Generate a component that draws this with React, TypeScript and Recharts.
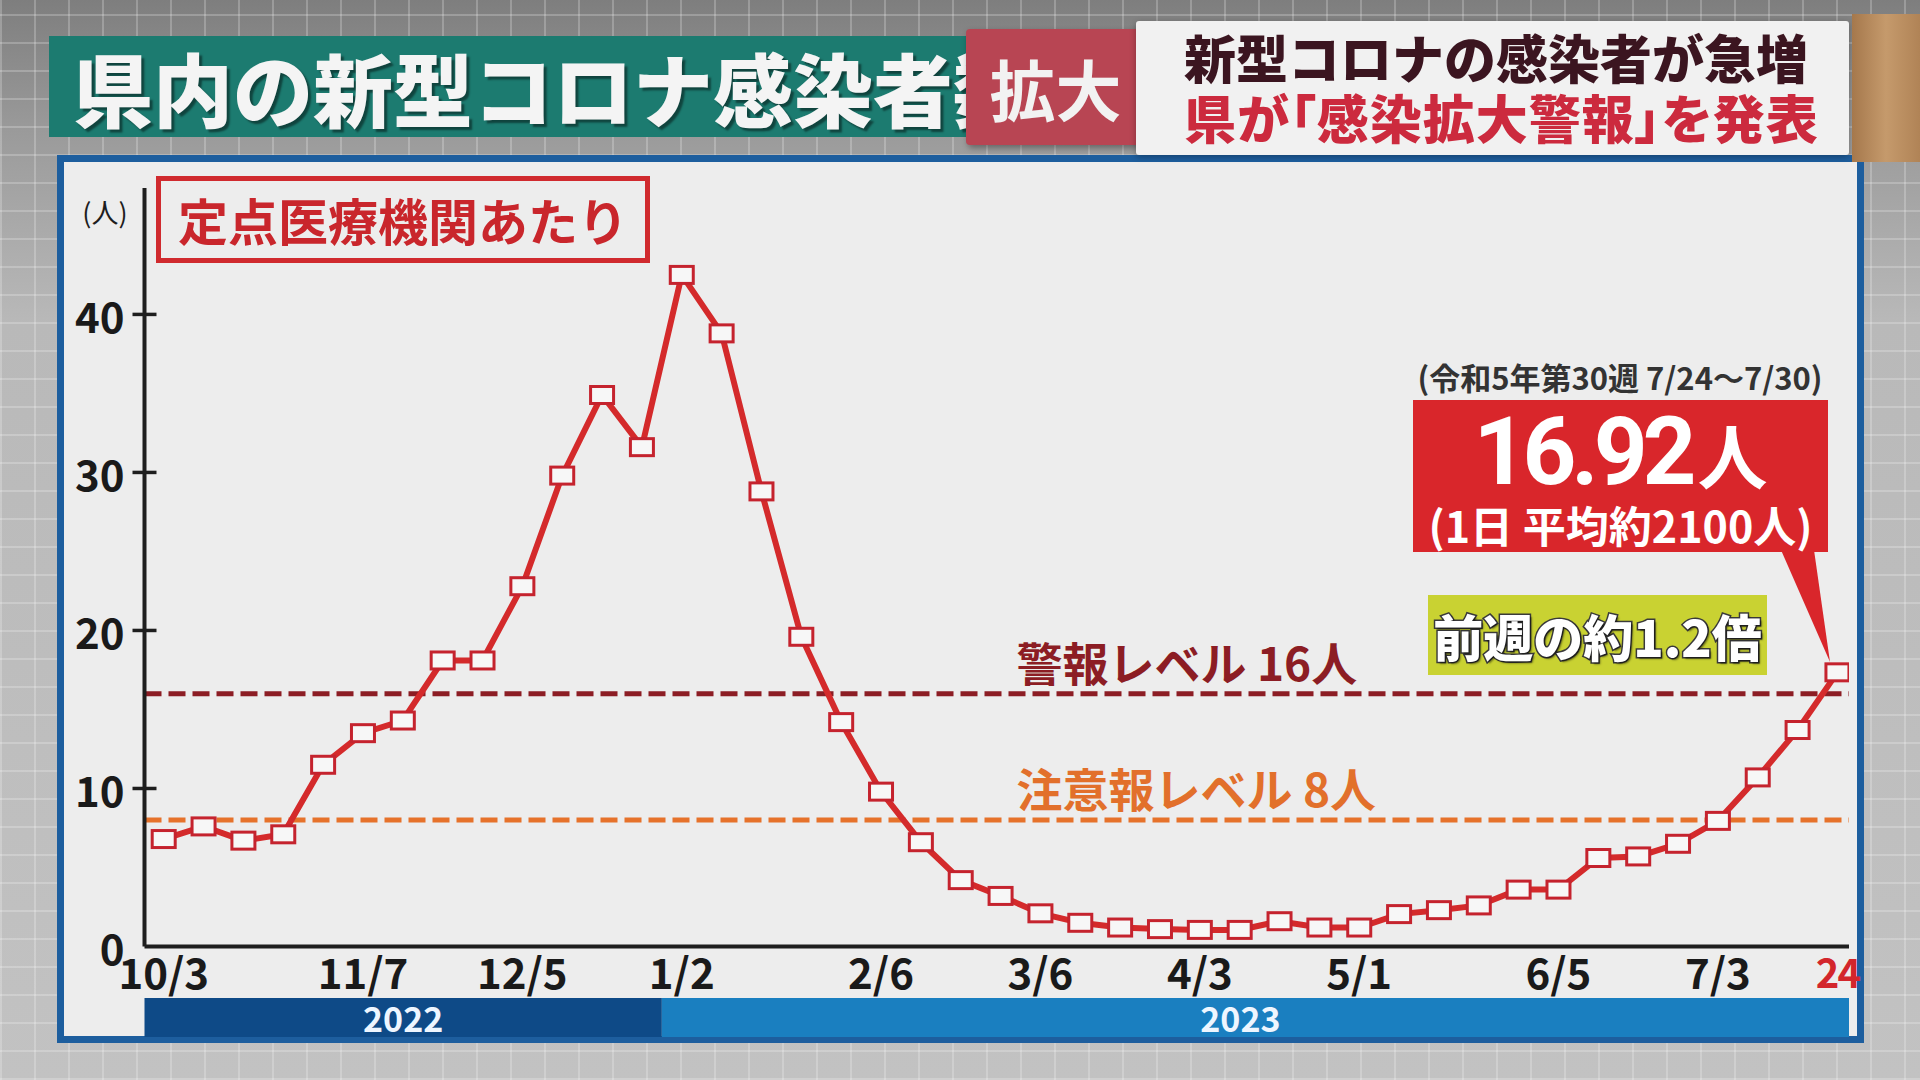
import React from 'react';
import { LineChart, Line, XAxis, YAxis, ReferenceLine, ReferenceArea } from 'recharts';

// ---- data ----
const weekLabels = [
  '10/3', '10/10', '10/17', '10/24', '10/31', '11/7', '11/14', '11/21', '11/28',
  '12/5', '12/12', '12/19', '12/26', '1/2', '1/9', '1/16', '1/23', '1/30',
  '2/6', '2/13', '2/20', '2/27', '3/6', '3/13', '3/20', '3/27', '4/3', '4/10',
  '4/17', '4/24', '5/1', '5/8', '5/15', '5/22', '5/29', '6/5', '6/12', '6/19',
  '6/26', '7/3', '7/10', '7/17', '7/24',
];
const perClinic = [
  6.8, 7.6, 6.7, 7.1, 11.5, 13.5, 14.3, 18.1, 18.1,
  22.8, 29.8, 34.9, 31.6, 42.5, 38.8, 28.8, 19.6, 14.2,
  9.8, 6.6, 4.2, 3.2, 2.1, 1.5, 1.2, 1.1, 1.05, 1.05,
  1.6, 1.2, 1.2, 2.05, 2.3, 2.6, 3.6, 3.6, 5.6, 5.7,
  6.5, 7.95, 10.7, 13.7, 17.35,
];
const xTickWeeks = ['10/3', '11/7', '12/5', '1/2', '2/6', '3/6', '4/3', '5/1', '6/5', '7/3', '7/24'];
const xTickLabels = ['10/3', '11/7', '12/5', '1/2', '2/6', '3/6', '4/3', '5/1', '6/5', '7/3', '24'];
const yTicks = [0, 10, 20, 30, 40];
const years = ['2022', '2023'];
const yearStartWeeks = ['10/3', '1/2'];
const alertLevel = 16;
const cautionLevel = 8;
const alertText = '警報レベル 16人';
const cautionText = '注意報レベル 8人';

const FONT = '"Noto Sans CJK JP", "Noto Sans", sans-serif';
const X_DOMAIN: [number, number] = [-0.482, 42.29];
const Y_DOMAIN: [number, number] = [0, 48];

const YTick = (props: any) => {
  const { x, y, payload } = props;
  return (
    <g>
      {payload.value !== 0 && (
        <line x1={x - 12} x2={x + 12} y1={y} y2={y} stroke="#1e1e1e" strokeWidth={3.5} />
      )}
      <text x={x - 20} y={y} textAnchor="end" dominantBaseline="central"
        fontFamily={FONT} fontSize={42} fontWeight={700} fill="#1a1a1a">
        {payload.value}
      </text>
    </g>
  );
};

const XTick = (props: any) => {
  const { x, y, payload, ticksIdx } = props;
  const k = ticksIdx.indexOf(payload.value);
  const label = xTickLabels[k];
  const last = k === xTickLabels.length - 1;
  return (
    <text x={x} y={y + 24} textAnchor="middle" dominantBaseline="central"
      fontFamily={FONT} fontSize={last ? 40 : 42} fontWeight={700}
      letterSpacing={last ? -2 : 0}
      fill={last ? '#d3262c' : '#1a1a1a'}>
      {label}
    </text>
  );
};

const Marker = (props: any) => {
  const { cx, cy, index } = props;
  if (cx == null || cy == null) return null;
  return (
    <rect key={`m${index}`} x={cx - 11.5} y={cy - 8.5} width={23} height={17}
      fill="#f7f7f7" stroke="#c5232e" strokeWidth={3} />
  );
};

const LevelLabel = (props: any) => {
  const { viewBox, text, color } = props;
  if (!viewBox) return null;
  return (
    <text x={viewBox.x + 872} y={viewBox.y - 13} fontFamily={FONT} fontSize={46}
      fontWeight={700} fill={color}>
      {text}
    </text>
  );
};

const YearLabel = (props: any) => {
  const { viewBox, text, dx } = props;
  if (!viewBox) return null;
  return (
    <text x={viewBox.x + viewBox.width / 2 + (dx || 0)} y={viewBox.y + viewBox.height / 2}
      textAnchor="middle" dominantBaseline="central" fontFamily={FONT}
      fontSize={34} fontWeight={700} fill="#eef6ff">
      {text}
    </text>
  );
};

export default function App() {
  const data = weekLabels.map((w, i) => ({ i, week: w, value: perClinic[i] }));
  const ticksIdx = xTickWeeks.map((w) => weekLabels.indexOf(w));
  const bounds = yearStartWeeks.map((w, k) => (k === 0 ? X_DOMAIN[0] : weekLabels.indexOf(w) - 0.5));
  const yearColors = ['#0e4a87', '#1a7fc0'];
  const yearDx = [0, -15];

  return (
    <div style={{
      position: 'absolute', left: 0, top: 0, width: 1920, height: 1080, overflow: 'hidden',
      fontFamily: FONT,
      background:
        'repeating-linear-gradient(90deg, rgba(255,255,255,0.22) 0 2px, transparent 2px 34px),' +
        'repeating-linear-gradient(0deg, rgba(255,255,255,0.22) 0 2px, transparent 2px 28px),' +
        'linear-gradient(180deg, #7e7e7e 0%, #9a9a9a 12%, #b9b9b9 30%, #c2c2c2 100%)',
    }}>
      {/* chart panel */}
      <div style={{
        position: 'absolute', left: 57, top: 155, width: 1807, height: 888,
        boxSizing: 'border-box', border: '7px solid #1d5e9e', background: '#ededed',
      }} />

      <LineChart width={1920} height={1080} data={data}
        style={{ position: 'absolute', left: 0, top: 0 }}
        margin={{ top: 188, right: 71, bottom: 83.5, left: 54.5 }}>
        <XAxis dataKey="i" type="number" domain={X_DOMAIN} ticks={ticksIdx} interval={0}
          height={50} tickSize={0} tickMargin={0} tickLine={false}
          axisLine={{ stroke: '#1e1e1e', strokeWidth: 4 }}
          tick={<XTick ticksIdx={ticksIdx} />} allowDataOverflow />
        <YAxis type="number" domain={Y_DOMAIN} ticks={yTicks} interval={0} width={90}
          tickSize={0} tickMargin={0} tickLine={false}
          axisLine={{ stroke: '#1e1e1e', strokeWidth: 4 }} tick={<YTick />} allowDataOverflow />
        {years.map((yr, k) => (
          <ReferenceArea key={yr} x1={bounds[k]} x2={k + 1 < bounds.length ? bounds[k + 1] : X_DOMAIN[1]}
            y1={-3.26} y2={-5.73} ifOverflow="visible" fill={yearColors[k]} fillOpacity={1}
            stroke="none" label={<YearLabel text={yr} dx={yearDx[k]} />} />
        ))}
        <ReferenceLine y={alertLevel} stroke="#8c1d24" strokeWidth={5} strokeDasharray="17 7"
          label={<LevelLabel text={alertText} color="#8c1d24" />} />
        <ReferenceLine y={cautionLevel} stroke="#e6722b" strokeWidth={5} strokeDasharray="17 7"
          label={<LevelLabel text={cautionText} color="#e2702b" />} />
        <Line type="linear" dataKey="value" stroke="#d42a2b" strokeWidth={6}
          dot={<Marker />} activeDot={false} isAnimationActive={false} />
      </LineChart>

      {/* header: title */}
      <div style={{
        position: 'absolute', left: 49, top: 36, width: 940, height: 101, background: '#1c7b70',
        overflow: 'hidden',
      }}>
        <div style={{
          position: 'absolute', left: 24, top: 0, height: 101, lineHeight: '101px',
          fontSize: 80, fontWeight: 900, color: '#f4f4f4', whiteSpace: 'nowrap',
          textShadow: '3px 3px 2px rgba(0,0,0,0.45)',
        }}>県内の新型コロナ感染者数</div>
      </div>
      <div style={{
        position: 'absolute', left: 966, top: 29, width: 179, height: 116, background: '#b84553',
        borderRadius: 4, boxShadow: '2px 3px 6px rgba(0,0,0,0.35)',
        color: '#f2f2f2', fontSize: 66, fontWeight: 700, lineHeight: '116px', textAlign: 'center',
      }}>拡大</div>
      <div style={{
        position: 'absolute', left: 1136, top: 21, width: 713, height: 134, background: '#f1f1f1',
        borderRadius: 3, boxShadow: '0 2px 6px rgba(0,0,0,0.3)',
      }}>
        <div style={{
          position: 'absolute', left: 48, top: 8, fontSize: 52, fontWeight: 900, color: '#3b1520',
          lineHeight: '56px', whiteSpace: 'nowrap',
        }}>新型コロナの感染者が急増</div>
        <div style={{
          position: 'absolute', left: 48, top: 68, fontSize: 52, fontWeight: 900, color: '#cc2a3e',
          lineHeight: '56px', whiteSpace: 'nowrap', fontFeatureSettings: '"palt"', letterSpacing: 1,
        }}>県が「感染拡大警報」を発表</div>
      </div>
      <div style={{
        position: 'absolute', left: 1852, top: 14, width: 68, height: 148,
        background: 'linear-gradient(90deg, #a5784c, #c59a6c 50%, #b08356)',
      }} />

      {/* axis unit + subtitle box */}
      <div style={{
        position: 'absolute', left: 80, top: 196, width: 50, height: 32, lineHeight: '32px',
        fontSize: 27, color: '#1e1e1e', textAlign: 'center', fontFeatureSettings: '"palt"',
      }}>(人)</div>
      <div style={{
        position: 'absolute', left: 156, top: 176, width: 494, height: 87, boxSizing: 'border-box',
        border: '5px solid #d02a2e', color: '#c9262c', fontSize: 50, fontWeight: 700,
        lineHeight: '77px', textAlign: 'center', whiteSpace: 'nowrap',
      }}>定点医療機関あたり</div>

      {/* callout */}
      <div style={{
        position: 'absolute', left: 1400, top: 358, width: 440, height: 38, lineHeight: '38px',
        fontSize: 31, fontWeight: 700, color: '#333', textAlign: 'center', whiteSpace: 'nowrap',
        fontFeatureSettings: '"palt"',
      }}>(令和5年第30週 7/24～7/30)</div>
      <svg width={1920} height={1080} style={{ position: 'absolute', left: 0, top: 0, pointerEvents: 'none' }}>
        <polygon points="1781,550 1814,550 1830,662" fill="#d9262b" />
      </svg>
      <div style={{
        position: 'absolute', left: 1413, top: 400, width: 415, height: 152, background: '#d9262b',
        color: '#fff', textAlign: 'center',
      }}>
        <div style={{ position: 'absolute', left: 0, top: 4, width: 415, height: 96, lineHeight: '96px', whiteSpace: 'nowrap' }}>
          <span style={{ fontFamily: 'Roboto, "Noto Sans", sans-serif', fontSize: 94, fontWeight: 700, letterSpacing: -5 }}>16.92</span>
          <span style={{ fontSize: 70, fontWeight: 700, marginLeft: 6 }}>人</span>
        </div>
        <div style={{
          position: 'absolute', left: 0, top: 98, width: 415, height: 52, lineHeight: '52px',
          fontSize: 43, fontWeight: 700, whiteSpace: 'nowrap', fontFeatureSettings: '"palt"',
        }}>(1日 平均約2100人)</div>
      </div>
      <div style={{
        position: 'absolute', left: 1428, top: 595, width: 339, height: 80, background: '#c9d232',
        color: '#fff', fontSize: 50, fontWeight: 900, lineHeight: '80px', textAlign: 'center',
        whiteSpace: 'nowrap', WebkitTextStroke: '3px #3a3a3a', paintOrder: 'stroke fill',
        textShadow: '2px 2px 2px rgba(0,0,0,0.5)',
      } as any}>前週の約1.2倍</div>
    </div>
  );
}
